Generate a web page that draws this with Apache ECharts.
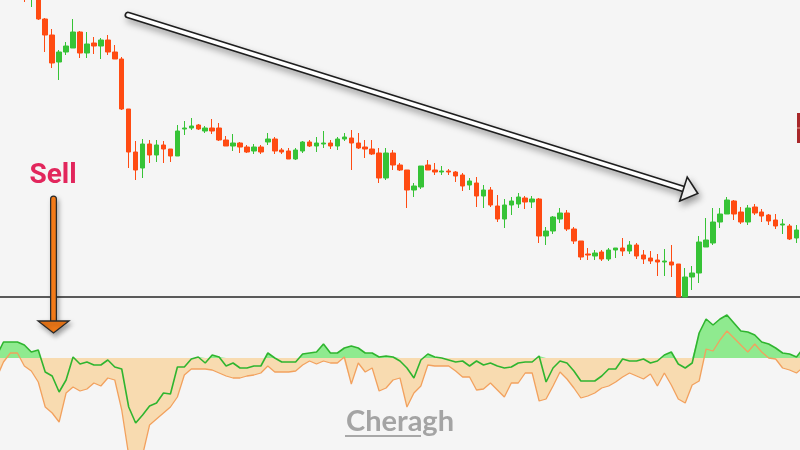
<!DOCTYPE html>
<html>
<head>
<meta charset="utf-8">
<script src="https://cdn.jsdelivr.net/npm/echarts@6/dist/echarts.min.js"></script>
<style>
  html, body { margin: 0; padding: 0; background: #f5f5f5; }
  #chart { width: 800px; height: 450px; }
</style>
</head>
<body>
<div id="chart"></div>
<script>
// ---- Price candles: [open, close, low, high] ----
const ohlc = [
  [360,345,340,365],[342,355,338,358],[350,320,312,352],[320,308,298,322],[302,312,293,315],
  [308,281,280,310],[281,265,248,282],[265,237,232,271],[238,248,220,250],[248,254,245,258],
  [252,268,252,281],[268,247,242,269],[247,256,242,268],[257,254,246,263],[254,260,241,262],
  [260,248,245,265],[248,241,241,255],[241,191,190,243],[191,148,132,191],[148,130,120,159],
  [132,156,122,161],[156,145,137,160],[145,155,138,160],[155,151,137,159],[151,144,138,151],
  [144,169,144,175],[171,172,165,179],[172,174,170,182],[175,171,170,176],[169,172,167,174],
  [172,169,166,181],[172,160,159,177],[160,154,154,164],[154,157,149,166],[157,153,147,158],
  [153,148,147,155],[149,153,146,156],[153,148,146,155],[158,161,155,167],[161,149,146,163],
  [150,148,146,152],[149,141,141,152],[141,150,140,152],[149,158,147,159],[158,154,153,160],
  [154,157,148,163],[156,157,152,169],[157,154,151,160],[154,161,150,163],[161,163,159,167],
  [162,157,130,170],[157,152,151,167],[153,151,142,160],[151,146,145,160],[147,122,117,152],
  [122,147,120,152],[147,135,130,150],[135,130,129,137],[130,110,92,130],[110,114,103,117],
  [113,134,111,134],[135,130,130,140],[130,128,125,137],[128,129,125,134],[129,128,125,131],
  [128,124,118,129],[125,114,109,127],[115,119,110,122],[117,104,93,123],[104,110,92,115],
  [110,95,93,113],[94,81,78,105],[81,95,72,101],[95,99,85,103],[96,103,92,107],
  [102,98,91,104],[98,101,92,104],[101,64,57,102],[64,69,55,73],[69,83,66,84],
  [81,87,77,92],[87,71,69,90],[71,59,56,73],[59,43,40,59],[46,45,40,52],
  [44,47,40,50],[48,41,39,50],[41,50,39,52],[50,52,42,52],[52,49,44,62],
  [49,55,46,59],[55,44,41,57],[45,41,36,50],[42,39,36,49],[40,38,24,46],
  [38,39,24,51],[38,35,23,55],[36,3,3,36],[3,23,3,32],[23,27,10,34],
  [27,58,17,64],[53,60,53,82],[57,78,55,92],[78,86,72,92],[86,100,86,103],
  [99,86,80,100],[88,78,76,93],[78,92,75,95],[93,87,85,96],[88,84,78,91],
  [85,79,75,86],[80,74,71,86],[75,76,66,81],[74,61,60,76],[62,70,57,75]
];
const dates = ohlc.map((_, i) => 'D' + (i + 1));

// ---- Indicator (values start one bar before the first candle) ----
const indicatorStart = -1;
const fastLine = [
  2,16,16,16,13,6,8,-14,-18,-34,
  -22,1,-6,-4,-7,-7,-2,-9,-11,-49,
  -65,-57,-48,-45,-35,-36,-9,-9,-1,1,
  -5,3,1,-8,-5,-10,-10,-8,-8,5,
  0,-4,-4,-4,4,5,6,14,5,5,
  10,12,10,5,5,1,2,1,-3,-10,
  -20,-2,4,1,0,-2,-4,-3,-8,-3,
  -7,-5,-8,-10,-9,-5,-4,-4,2,-24,
  -10,-3,-5,-13,-23,-23,-23,-18,-11,-11,
  -1,-3,-3,-1,-5,-3,3,6,-6,-10,
  -5,25,39,33,39,43,35,27,26,23,
  16,14,10,5,4,1,10
];
const slowLine = [
  -20,-4,5,5,-8,-13,-24,-49,-55,-64,
  -35,-29,-33,-31,-25,-28,-20,-22,-52,-97,
  -112,-97,-67,-61,-55,-49,-39,-17,-11,-11,
  -11,-12,-15,-18,-20,-20,-18,-17,-15,-8,
  -14,-14,-14,-13,-7,-3,-6,-3,-5,-5,
  1,-26,-5,-14,-10,-33,-30,-22,-20,-49,
  -35,-28,-7,-8,-8,-8,-13,-19,-19,-32,
  -31,-25,-32,-39,-25,-25,-15,-15,-43,-41,
  -28,-14,-21,-30,-40,-38,-35,-30,-28,-24,
  -19,-15,-18,-21,-16,-28,-15,-27,-41,-45,
  -27,-23,9,7,18,27,20,13,6,14,
  6,0,-1,-10,-12,-15,-9
];

function toPoints(vals, start) {
  return vals.map((v, k) => [start + k, v]);
}
function clipSide(vals, start, positive) {
  const pts = [];
  for (let k = 0; k < vals.length; k++) {
    const v = vals[k], x = start + k;
    if (k > 0) {
      const pv = vals[k - 1];
      if ((pv > 0 && v < 0) || (pv < 0 && v > 0)) {
        const t = pv / (pv - v);
        pts.push([x - 1 + t, 0]);
      }
    }
    pts.push([x, positive ? Math.max(v, 0) : Math.min(v, 0)]);
  }
  return pts;
}

const UP = '#36c336', DOWN = '#ff4b12';
const chart = echarts.init(document.getElementById('chart'), null, { renderer: 'canvas' });

// arrow geometry helpers (annotation only)
const arrowStart = [128, 15], arrowBase = [683.5, 189];
const dx = arrowBase[0] - arrowStart[0], dy = arrowBase[1] - arrowStart[1];
const len = Math.sqrt(dx * dx + dy * dy);
const ux = dx / len, uy = dy / len, nx = -uy, ny = ux;
const headLen = 15, headHalf = 12.5;
const tip = [arrowBase[0] + ux * headLen, arrowBase[1] + uy * headLen];
const c1 = [arrowBase[0] + nx * headHalf, arrowBase[1] + ny * headHalf];
const c2 = [arrowBase[0] - nx * headHalf, arrowBase[1] - ny * headHalf];

const option = {
  backgroundColor: '#f5f5f5',
  animation: false,
  grid: [
    { left: 0, right: 0, top: 0, bottom: 153 },
    { left: 0, right: 0, top: 300, bottom: 0 }
  ],
  xAxis: [
    { type: 'category', gridIndex: 0, data: dates, boundaryGap: true,
      axisLine: { show: true, onZero: false, lineStyle: { color: '#5a5a5a', width: 2 } },
      axisTick: { show: false }, axisLabel: { show: false }, splitLine: { show: false } },
    { type: 'value', gridIndex: 1, min: -0.5, max: 114.5, show: false }
  ],
  yAxis: [
    { type: 'value', gridIndex: 0, min: 3, max: 300, show: false },
    { type: 'value', gridIndex: 1, min: -92, max: 58, show: false }
  ],
  series: [
    { type: 'candlestick', xAxisIndex: 0, yAxisIndex: 0, data: ohlc, barWidth: 5, clip: true,
      itemStyle: { color: UP, color0: DOWN, borderColor: UP, borderColor0: DOWN, borderWidth: 1 } },
    { type: 'line', xAxisIndex: 1, yAxisIndex: 1, data: clipSide(slowLine, indicatorStart, false),
      symbol: 'none', lineStyle: { width: 0 }, areaStyle: { color: '#f8dbb0', opacity: 1, origin: 0 }, z: 1 },
    { type: 'line', xAxisIndex: 1, yAxisIndex: 1, data: clipSide(fastLine, indicatorStart, true),
      symbol: 'none', lineStyle: { width: 0 }, areaStyle: { color: '#8fea8f', opacity: 1, origin: 0 }, z: 1 },
    { type: 'line', xAxisIndex: 1, yAxisIndex: 1, data: toPoints(slowLine, indicatorStart),
      symbol: 'none', lineStyle: { color: '#f2a15e', width: 1.3 }, z: 3 },
    { type: 'line', xAxisIndex: 1, yAxisIndex: 1, data: toPoints(fastLine, indicatorStart),
      symbol: 'none', lineStyle: { color: '#2fb52f', width: 1.6 }, z: 4 }
  ],
  graphic: [
    // trend arrow
    { type: 'polyline', z: 100, shape: { points: [arrowStart, arrowBase] },
      style: { stroke: '#1e1e1e', lineWidth: 7, lineCap: 'round', fill: null,
               shadowBlur: 7, shadowColor: 'rgba(0,0,0,0.35)', shadowOffsetX: 2, shadowOffsetY: 4 } },
    { type: 'polyline', z: 101, shape: { points: [arrowStart, arrowBase] },
      style: { stroke: '#ffffff', lineWidth: 3.6, lineCap: 'round', fill: null } },
    { type: 'polygon', z: 102, shape: { points: [c1, tip, c2] },
      style: { fill: '#ffffff', stroke: '#1e1e1e', lineWidth: 1.6, lineJoin: 'miter',
               shadowBlur: 7, shadowColor: 'rgba(0,0,0,0.35)', shadowOffsetX: 2, shadowOffsetY: 4 } },
    // sell arrow
    { type: 'polyline', z: 100, shape: { points: [[53.5, 199], [53.5, 322]] },
      style: { stroke: '#2a2a2a', lineWidth: 7, lineCap: 'round', fill: null,
               shadowBlur: 5, shadowColor: 'rgba(0,0,0,0.35)', shadowOffsetX: 2, shadowOffsetY: 3 } },
    { type: 'polyline', z: 101, shape: { points: [[53.5, 199], [53.5, 323]] },
      style: { stroke: '#f27a18', lineWidth: 4.5, lineCap: 'round', fill: null } },
    { type: 'polygon', z: 102, shape: { points: [[38, 321], [69, 321], [53.5, 333]] },
      style: { fill: '#f27a18', stroke: '#2a2a2a', lineWidth: 1.3,
               shadowBlur: 5, shadowColor: 'rgba(0,0,0,0.35)', shadowOffsetX: 2, shadowOffsetY: 3 } },
    { type: 'text', z: 103, x: 53, y: 176,
      style: { text: 'Sell', font: 'bold 28px Roboto, "Noto Sans", sans-serif', fill: '#e2265c',
               align: 'center', verticalAlign: 'middle', textAlign: 'center', textVerticalAlign: 'middle' } },
    // watermark
    { type: 'text', z: 103, x: 400, y: 422,
      style: { text: 'Cheragh', font: 'bold 29px Lato, "Open Sans", sans-serif', fill: '#a4a4a4',
               align: 'center', verticalAlign: 'middle', textAlign: 'center', textVerticalAlign: 'middle' } },
    { type: 'rect', z: 103, shape: { x: 345, y: 435, width: 76, height: 2 }, style: { fill: '#a8a8a8' } },
    // edge element at right
    { type: 'rect', z: 103, shape: { x: 797, y: 113, width: 4, height: 30 }, style: { fill: '#a8282a' } },
    { type: 'rect', z: 104, shape: { x: 797, y: 127.5, width: 4, height: 1 }, style: { fill: '#e8a090' } }
  ]
};
chart.setOption(option);
</script>
</body>
</html>
